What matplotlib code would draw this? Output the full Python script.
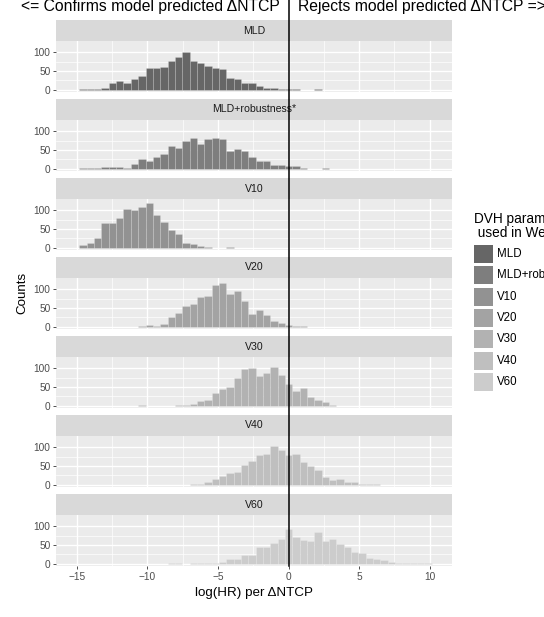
import matplotlib
matplotlib.use("Agg")
import matplotlib.pyplot as plt
from matplotlib.patches import Rectangle
from matplotlib.lines import Line2D
import matplotlib.transforms as mtransforms
import numpy as np

plt.rcParams['font.family'] = ['Liberation Sans', 'DejaVu Sans']

# ---------------- data ----------------
facets = ["MLD", "MLD+robustness*", "V10", "V20", "V30", "V40", "V60"]
fill_colors = ["#666666", "#7E7E7E", "#929292", "#A3A3A3", "#B2B2B2", "#BFBFBF", "#CCCCCC"]

bin_width = 0.52
bin_origin = -0.25   # one of the bin edges

mld_first_bin = -28
mld_counts = [1, 1, 2, 4, 17, 22, 19, 28, 37, 58, 59, 60, 76, 86, 100, 77, 71, 63, 57, 54,
              30, 28, 17, 17, 9, 4, 5, 2, 1, 1, 0, 0, 1]
mldrob_first_bin = -28
mldrob_counts = [1, 1, 1, 4, 5, 5, 3, 12, 25, 21, 30, 40, 61, 55, 73, 81, 65, 78, 81, 78,
                 47, 52, 47, 32, 20, 20, 10, 10, 8, 7, 2, 0, 0, 1]
v10_first_bin = -28
v10_counts = [6, 12, 27, 67, 67, 80, 103, 101, 107, 118, 88, 69, 47, 36, 13, 9, 5, 3, 0, 0, 1]
v20_first_bin = -20
v20_counts = [3, 4, 2, 7, 25, 37, 56, 60, 78, 82, 112, 116, 88, 95, 68, 35, 45, 30, 16, 10,
              4, 1, 1]
v30_first_bin = -20
v30_counts = [1, 0, 0, 0, 0, 1, 3, 5, 13, 15, 33, 45, 50, 74, 98, 99, 80, 86, 102, 82,
              57, 38, 47, 22, 15, 10, 1]
v40_first_bin = -13
v40_counts = [1, 3, 6, 16, 23, 32, 35, 52, 63, 79, 83, 103, 91, 80, 82, 60, 50, 40, 20, 12,
              16, 6, 6, 3, 2, 1]
v60_first_bin = -16
v60_counts = [1, 1, 0, 1, 1, 1, 2, 5, 13, 12, 24, 23, 45, 45, 56, 67, 92, 72, 62, 61,
              84, 61, 65, 53, 44, 32, 28, 15, 13, 9, 5, 3, 2, 1, 2, 1]

series = [(mld_first_bin, mld_counts), (mldrob_first_bin, mldrob_counts),
          (v10_first_bin, v10_counts), (v20_first_bin, v20_counts),
          (v30_first_bin, v30_counts), (v40_first_bin, v40_counts),
          (v60_first_bin, v60_counts)]

x_ticks = [-15, -10, -5, 0, 5, 10]
y_ticks = [0, 50, 100]
legend_labels = ["MLD", "MLD+robustness*", "V10", "V20", "V30", "V40", "V60"]

left_text = "<= Confirms model predicted \u0394NTCP"
right_text = "Rejects model predicted \u0394NTCP =>"
x_label = "log(HR) per \u0394NTCP"
y_label = "Counts"
legend_title = "DVH parameter\n used in Weibull model"

# ---------------- layout ----------------
W, H = 544, 617
fig = plt.figure(figsize=(W / 100, H / 100), dpi=100)
fig.patch.set_facecolor("white")

def fx(px):
    return px / W

def fy(py):
    return 1 - py / H

P_LEFT, P_RIGHT = 56, 452
STRIP_H, PANEL_H, PERIOD, TOP0 = 21, 51, 79, 20
XLIM = (-16.47, 11.58)
YLIM = (-6, 129.5)

axes = []
for i, (name, (first, counts)) in enumerate(zip(facets, series)):
    st = TOP0 + PERIOD * i
    sb = st + STRIP_H
    pb = sb + PANEL_H
    # strip
    sax = fig.add_axes([fx(P_LEFT), fy(sb), fx(P_RIGHT - P_LEFT), STRIP_H / H])
    sax.set_facecolor("#D9D9D9")
    sax.set_xticks([]); sax.set_yticks([])
    for s in sax.spines.values():
        s.set_visible(False)
    sax.text(0.5, 0.5, name, ha="center", va="center", fontsize=7.6, color="#1A1A1A",
             transform=sax.transAxes)
    # panel
    ax = fig.add_axes([fx(P_LEFT), fy(pb), fx(P_RIGHT - P_LEFT), PANEL_H / H])
    ax.set_facecolor("#EBEBEB")
    for s in ax.spines.values():
        s.set_visible(False)
    ax.set_xlim(*XLIM)
    ax.set_ylim(*YLIM)
    ax.set_xticks(x_ticks)
    ax.set_xticks([-12.5, -7.5, -2.5, 2.5, 7.5], minor=True)
    ax.set_yticks(y_ticks)
    ax.set_yticks([25, 75], minor=True)
    ax.grid(which="major", color="white", linewidth=1.0)
    ax.grid(which="minor", color="white", linewidth=0.5)
    ax.set_axisbelow(True)
    ax.tick_params(axis="y", which="major", length=2.5, width=0.6, color="#333333",
                   labelsize=7.3, labelcolor="#4D4D4D", pad=1.5)
    ax.tick_params(which="minor", length=0)
    if i < len(facets) - 1:
        ax.tick_params(axis="x", which="major", length=0, labelbottom=False)
    else:
        ax.tick_params(axis="x", which="major", length=2.5, width=0.6, color="#333333",
                       labelsize=7.3, labelcolor="#4D4D4D", pad=1.5)
    edges = bin_origin + bin_width * (first + np.arange(len(counts)))
    ax.bar(edges, counts, width=bin_width, align="edge", color=fill_colors[i],
           edgecolor=(1, 1, 1, 0.25), linewidth=0.4, zorder=2)
    axes.append(ax)

last = axes[-1]
last.set_xlabel(x_label, fontsize=9.6, color="black", labelpad=4)
fig.text(fx(22), fy(293), y_label, rotation=90, ha="center", va="center", fontsize=9.6)

# vertical reference line at 0 spanning from the bottom panel to the top of the figure
trans = mtransforms.blended_transform_factory(last.transData, fig.transFigure)
fig.add_artist(Line2D([0, 0], [fy(566), 1.0], transform=trans, color="black",
                      linewidth=1.1, zorder=10))

# top annotations (partly cut at the top edge, as in the reference)
fig.text(fx(280), fy(11.5), left_text, ha="right", va="baseline", fontsize=11.3)
fig.text(fx(298), fy(11.5), right_text, ha="left", va="baseline", fontsize=11.3)

# legend
fig.text(fx(474), fy(226), legend_title, ha="left", va="center", fontsize=9.8,
         linespacing=1.0)
key_top0, key_step, key_w, key_h = 245, 21.3, 19, 18
for j, (lab, col) in enumerate(zip(legend_labels, fill_colors)):
    top = key_top0 + key_step * j
    fig.add_artist(Rectangle((fx(474), fy(top + key_h)), key_w / W, key_h / H,
                             transform=fig.transFigure, facecolor=col, edgecolor="none"))
    fig.text(fx(497), fy(top + key_h / 2), lab, ha="left", va="center", fontsize=8.3)

fig.savefig("out.png", dpi=100)
